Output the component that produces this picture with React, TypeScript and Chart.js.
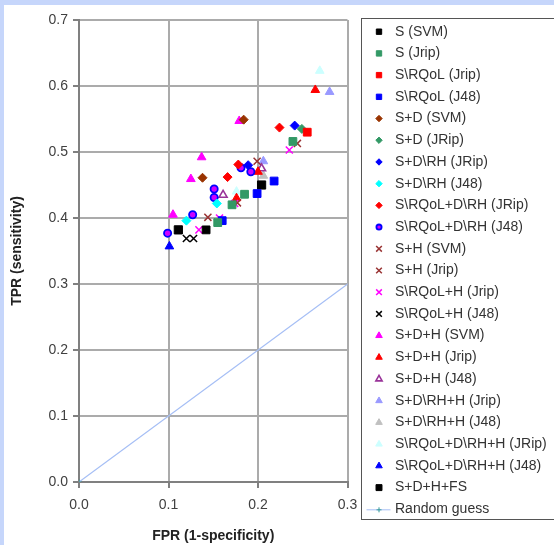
import React, { useEffect, useRef } from "react";
import { Chart, registerables } from "chart.js";
import { drawPoint } from "chart.js/helpers";

Chart.register(...registerables);

// ---- data: [FPR, TPR] pairs per series ----
const sSvm = [[0.142, 0.382]];
const sJrip = [[0.155, 0.393], [0.171, 0.42], [0.185, 0.436], [0.239, 0.516]];
const sRqolJrip = [[0.255, 0.53]];
const sRqolJ48 = [[0.16, 0.396], [0.199, 0.437], [0.218, 0.456]];
const sdSvm = [[0.138, 0.461], [0.184, 0.549]];
const sdJrip = [[0.249, 0.535]];
const sdRhJrip = [[0.189, 0.48], [0.241, 0.54]];
const sdRhJ48 = [[0.12, 0.396], [0.154, 0.422]];
const sRqolDRhJrip = [[0.166, 0.462], [0.178, 0.481], [0.224, 0.537]];
const sRqolDRhJ48 = [[0.099, 0.377], [0.127, 0.405], [0.151, 0.431], [0.151, 0.444], [0.181, 0.476], [0.192, 0.47]];
const shSvm = [[0.144, 0.401], [0.199, 0.486]];
const shJrip = [[0.177, 0.423], [0.244, 0.513]];
const sRqolHJrip = [[0.134, 0.382], [0.157, 0.4], [0.174, 0.422], [0.235, 0.503]];
const sRqolHJ48 = [[0.12, 0.369], [0.128, 0.369], [0.155, 0.393]];
const sdhSvm = [[0.105, 0.405], [0.125, 0.459], [0.137, 0.492], [0.179, 0.547]];
const sdhJrip = [[0.176, 0.43], [0.2, 0.47], [0.264, 0.594]];
const sdhJ48 = [[0.161, 0.435], [0.204, 0.475]];
const sdRhHJrip = [[0.206, 0.486], [0.28, 0.591]];
const sdRhHJ48 = [[0.206, 0.464]];
const sRqolDRhHJrip = [[0.176, 0.44], [0.269, 0.623]];
const sRqolDRhHJ48 = [[0.101, 0.357]];
const sdhFs = [[0.111, 0.382], [0.204, 0.45]];
const randomGuess = [[0, 0], [1, 1]];

const xTicks = [0, 0.1, 0.2, 0.3];
const yTicks = [0, 0.1, 0.2, 0.3, 0.4, 0.5, 0.6, 0.7];

const FONT = "'Liberation Sans', Arial, sans-serif";

type S = {
  label: string;
  data: number[][];
  style: string;
  fill: string;
  stroke: string;
  r: number;
  lr: number;
  bw?: number;
};

const seriesList: S[] = [
  { label: "S (SVM)", data: sSvm, style: "rect", fill: "#000000", stroke: "#000000", r: 5.5, lr: 3.8 },
  { label: "S (Jrip)", data: sJrip, style: "rect", fill: "#339966", stroke: "#339966", r: 5.5, lr: 3.8 },
  { label: "S\\RQoL (Jrip)", data: sRqolJrip, style: "rect", fill: "#FF0000", stroke: "#FF0000", r: 5.5, lr: 3.8 },
  { label: "S\\RQoL (J48)", data: sRqolJ48, style: "rect", fill: "#0000FF", stroke: "#0000FF", r: 5.5, lr: 3.8 },
  { label: "S+D (SVM)", data: sdSvm, style: "rectRot", fill: "#993300", stroke: "#993300", r: 4.5, lr: 3.2 },
  { label: "S+D (JRip)", data: sdJrip, style: "rectRot", fill: "#339966", stroke: "#339966", r: 4.5, lr: 3.2 },
  { label: "S+D\\RH (JRip)", data: sdRhJrip, style: "rectRot", fill: "#0000FF", stroke: "#0000FF", r: 4.5, lr: 3.2 },
  { label: "S+D\\RH (J48)", data: sdRhJ48, style: "rectRot", fill: "#00FFFF", stroke: "#00FFFF", r: 4.5, lr: 3.2 },
  { label: "S\\RQoL+D\\RH (JRip)", data: sRqolDRhJrip, style: "rectRot", fill: "#FF0000", stroke: "#FF0000", r: 4.5, lr: 3.2 },
  { label: "S\\RQoL+D\\RH (J48)", data: sRqolDRhJ48, style: "circle", fill: "#CC00FF", stroke: "#0000FF", r: 3.6, lr: 2.6, bw: 1.8 },
  { label: "S+H (SVM)", data: shSvm, style: "crossRot", fill: "#993333", stroke: "#993333", r: 5, lr: 4, bw: 1.5 },
  { label: "S+H (Jrip)", data: shJrip, style: "crossRot", fill: "#993333", stroke: "#993333", r: 5, lr: 4, bw: 1.5 },
  { label: "S\\RQoL+H (Jrip)", data: sRqolHJrip, style: "crossRot", fill: "#FF00FF", stroke: "#FF00FF", r: 5, lr: 4, bw: 1.5 },
  { label: "S\\RQoL+H (J48)", data: sRqolHJ48, style: "crossRot", fill: "#000000", stroke: "#000000", r: 5, lr: 4, bw: 1.5 },
  { label: "S+D+H (SVM)", data: sdhSvm, style: "triangle", fill: "#FF00FF", stroke: "#FF00FF", r: 5, lr: 3.8 },
  { label: "S+D+H (Jrip)", data: sdhJrip, style: "triangle", fill: "#FF0000", stroke: "#FF0000", r: 5, lr: 3.8 },
  { label: "S+D+H (J48)", data: sdhJ48, style: "triangle", fill: "#FFFFFF", stroke: "#993399", r: 4.6, lr: 3.6, bw: 1.6 },
  { label: "S+D\\RH+H (Jrip)", data: sdRhHJrip, style: "triangle", fill: "#9999FF", stroke: "#9999FF", r: 5, lr: 3.8 },
  { label: "S+D\\RH+H (J48)", data: sdRhHJ48, style: "triangle", fill: "#C0C0C0", stroke: "#C0C0C0", r: 5, lr: 3.8 },
  { label: "S\\RQoL+D\\RH+H (JRip)", data: sRqolDRhHJrip, style: "triangle", fill: "#CCFFFF", stroke: "#CCFFFF", r: 5, lr: 3.8 },
  { label: "S\\RQoL+D\\RH+H (J48)", data: sRqolDRhHJ48, style: "triangle", fill: "#0000FF", stroke: "#0000FF", r: 5, lr: 3.8 },
  { label: "S+D+H+FS", data: sdhFs, style: "rect", fill: "#000000", stroke: "#000000", r: 5.8, lr: 4.2 },
];

const guessLabel = "Random guess";

const sideLegend = {
  id: "sideLegend",
  afterDraw(chart: any) {
    const ctx = chart.ctx as CanvasRenderingContext2D;
    ctx.save();
    const bx = 361.5, by = 18.5, bw = 210, bh = 501;
    ctx.fillStyle = "#ffffff";
    ctx.fillRect(bx, by, bw, bh);
    ctx.strokeStyle = "#555555";
    ctx.lineWidth = 1;
    ctx.strokeRect(bx, by, bw, bh);
    ctx.font = `14px ${FONT}`;
    ctx.textBaseline = "middle";
    ctx.textAlign = "left";
    const step = 21.71;
    chart.data.datasets.forEach((ds: any, i: number) => {
      const y = 31.7 + i * step;
      const mx = 379;
      if (ds.showLine) {
        ctx.strokeStyle = ds.borderColor;
        ctx.lineWidth = 1;
        ctx.beginPath();
        ctx.moveTo(366.5, y + 0.5);
        ctx.lineTo(390.5, y + 0.5);
        ctx.stroke();
        ctx.strokeStyle = ds.pointBorderColor;
        ctx.fillStyle = ds.pointBorderColor;
        drawPoint(ctx, { pointStyle: "cross", radius: 2.5, rotation: 0, borderWidth: 1 } as any, mx, y + 0.5);
      } else {
        ctx.fillStyle = ds.pointBackgroundColor;
        ctx.strokeStyle = ds.pointBorderColor;
        ctx.lineWidth = ds.pointBorderWidth;
        drawPoint(ctx, { pointStyle: ds.pointStyle, radius: ds.legendRadius, rotation: 0, borderWidth: ds.pointBorderWidth } as any, mx, y);
      }
      ctx.fillStyle = "#333333";
      ctx.fillText(ds.label, 395, y);
    });
    ctx.restore();
  },
};

export default function App() {
  const ref = useRef<HTMLCanvasElement | null>(null);

  useEffect(() => {
    if (!ref.current) return;
    const datasets: any[] = seriesList.map((s) => ({
      label: s.label,
      data: s.data.map(([x, y]) => ({ x, y })),
      pointStyle: s.style,
      pointRadius: s.r,
      legendRadius: s.lr,
      pointBackgroundColor: s.fill,
      pointBorderColor: s.stroke,
      pointBorderWidth: s.bw ?? 1,
      showLine: false,
    }));
    datasets.push({
      label: guessLabel,
      data: randomGuess.map(([x, y]) => ({ x, y })),
      showLine: true,
      borderColor: "#A5BEF5",
      borderWidth: 1.2,
      pointStyle: "cross",
      pointRadius: 2.5,
      pointBorderColor: "#339999",
      pointBackgroundColor: "#339999",
      pointBorderWidth: 1,
      fill: false,
    });

    const chart = new Chart(ref.current, {
      type: "scatter",
      data: { datasets },
      options: {
        responsive: false,
        animation: false,
        events: [],
        layout: { padding: { top: 20, right: 206.5, left: 0, bottom: 0 } },
        plugins: { legend: { display: false }, tooltip: { enabled: false } },
        scales: {
          x: {
            type: "linear",
            min: 0,
            max: 0.3,
            afterBuildTicks: (s: any) => {
              s.ticks = xTicks.map((v) => ({ value: v }));
            },
            afterFit: (s: any) => {
              s.height = 63;
            },
            ticks: {
              padding: 9,
              color: "#404040",
              font: { family: FONT, size: 14 },
              callback: (v: any) => Number(v).toFixed(1),
            },
            grid: { color: "#ABABAB", lineWidth: 2, tickColor: "#808080", tickLength: 6 },
            border: { color: "#808080", width: 2 },
            title: {
              display: true,
              text: "FPR (1-specificity)",
              color: "#222222",
              font: { family: FONT, size: 14, weight: "bold" },
              padding: { top: 0, bottom: 0 },
            },
          },
          y: {
            type: "linear",
            min: 0,
            max: 0.7,
            afterBuildTicks: (s: any) => {
              s.ticks = yTicks.map((v) => ({ value: v }));
            },
            afterFit: (s: any) => {
              s.width = 79;
            },
            ticks: {
              padding: 5,
              color: "#404040",
              font: { family: FONT, size: 14 },
              callback: (v: any) => Number(v).toFixed(1),
            },
            grid: { color: "#ABABAB", lineWidth: 2, tickColor: "#808080", tickLength: 6 },
            border: { color: "#808080", width: 2 },
            title: {
              display: true,
              text: "TPR (sensitivity)",
              color: "#222222",
              font: { family: FONT, size: 14, weight: "bold" },
              padding: { top: 9, bottom: 0 },
            },
          },
        },
      } as any,
      plugins: [sideLegend],
    });
    return () => chart.destroy();
  }, []);

  return (
    <div style={{ position: "fixed", left: 0, top: 0, width: 554, height: 545, background: "#C6D6FB", overflow: "hidden" }}>
      <div style={{ position: "absolute", left: 4, top: 5, right: 0, bottom: 0, background: "#ffffff" }} />
      <canvas ref={ref} width={554} height={545} style={{ position: "absolute", left: 0, top: 0 }} />
    </div>
  );
}
